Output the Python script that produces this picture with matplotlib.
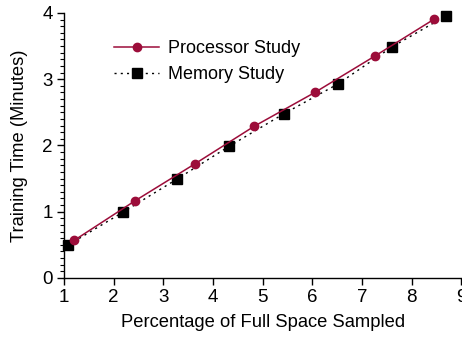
import matplotlib
matplotlib.use("Agg")
from matplotlib import pyplot as plt
from matplotlib.ticker import MultipleLocator

plt.rcParams['font.family'] = ['Liberation Sans', 'DejaVu Sans']

proc_x = [1.21, 2.42, 3.63, 4.83, 6.05, 7.26, 8.46]
proc_y = [0.57, 1.16, 1.72, 2.29, 2.80, 3.35, 3.91]

mem_x = [1.09, 2.18, 3.27, 4.33, 5.43, 6.52, 7.61, 8.70]
mem_y = [0.50, 0.99, 1.49, 1.99, 2.48, 2.93, 3.49, 3.96]

red = '#9c0d3a'

fig = plt.figure(figsize=(4.62, 3.39), dpi=100)
ax = fig.add_axes([0.1385, 0.180, 0.86, 0.7817])

ax.plot(proc_x, proc_y, color=red, lw=1.1, marker='o', ms=6,
        label='Processor Study', clip_on=False, zorder=3)
ax.plot(mem_x, mem_y, color='black', lw=1.0, ls=(0, (1.5, 3)), marker='s',
        ms=6.5, label='Memory Study', clip_on=False, zorder=2)

ax.set_xlim(1, 9)
ax.set_ylim(0, 4)
ax.xaxis.set_major_locator(MultipleLocator(1))
ax.yaxis.set_major_locator(MultipleLocator(1))
ax.yaxis.set_minor_locator(MultipleLocator(0.1))

for s in ['top', 'right']:
    ax.spines[s].set_visible(False)
ax.spines['left'].set_linewidth(1.0)
ax.spines['bottom'].set_linewidth(1.0)

ax.tick_params(axis='both', which='major', direction='out', length=5,
               width=1, labelsize=13.5, pad=3)
ax.tick_params(axis='y', which='minor', direction='out', length=3, width=0.8)

ax.set_xlabel('Percentage of Full Space Sampled', fontsize=13.2, labelpad=6)
ax.set_ylabel('Training Time (Minutes)', fontsize=13.2, labelpad=10)

ax.legend(loc='upper left', bbox_to_anchor=(0.108, 0.924), frameon=False,
          fontsize=13, handlelength=2.5, handletextpad=0.5, labelspacing=0.5,
          borderaxespad=0)

fig.savefig('out.png', dpi=100)
